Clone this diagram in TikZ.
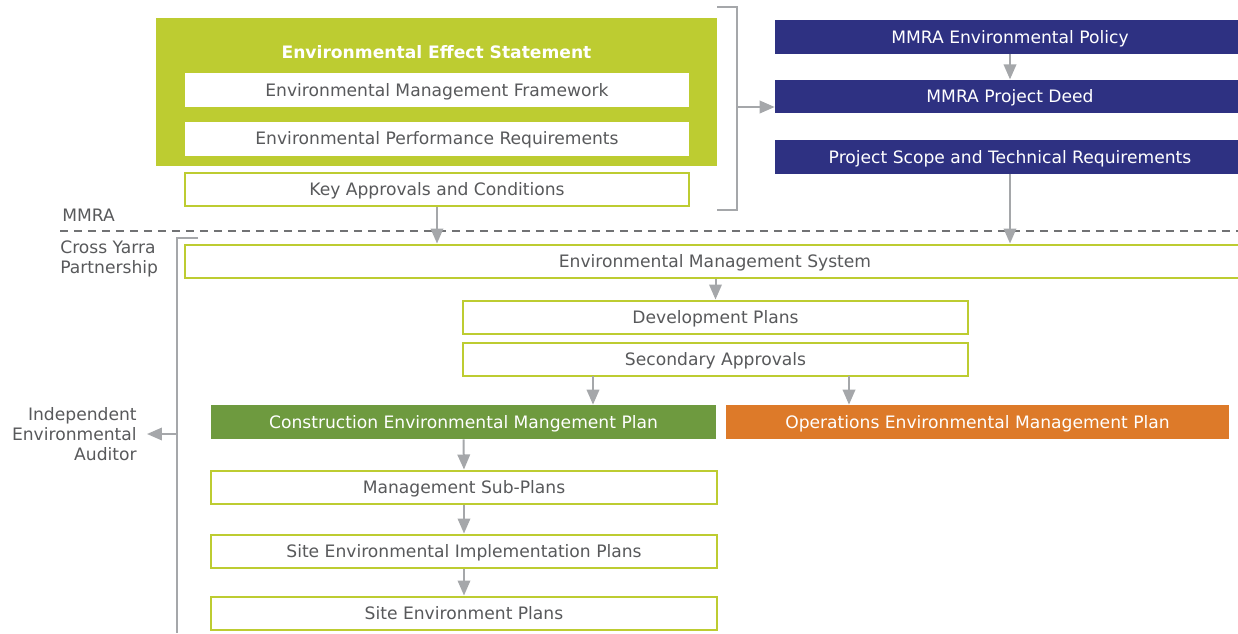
\documentclass[tikz,border=0pt]{standalone}
\usepackage{fontspec}
\setmainfont{DejaVu Sans}
\usepackage{tikz}
\usetikzlibrary{arrows.meta}
\definecolor{ees lime}{HTML}{BDCC31}
\definecolor{mmra navy}{HTML}{2E3182}
\definecolor{cemp green}{HTML}{6E9A3F}
\definecolor{oemp orange}{HTML}{DD7A29}
\definecolor{line gray}{HTML}{A5A7AA}
\definecolor{text gray}{HTML}{58595B}

\tikzset{
	plan/.style = {draw = ees lime, line width = 0.04cm, fill = white, text = text gray,
		minimum height = 0.66cm, inner sep = 0pt, text height = 0.73em, text depth = 0pt},
	inner plan/.style = {fill = white, text = text gray, minimum height = 0.68cm, inner sep = 0pt,
		text height = 0.73em, text depth = 0pt},
	navy plan/.style = {fill = mmra navy, text = white, minimum height = 0.67cm, inner sep = 0pt,
		text height = 0.73em, text depth = 0pt},
	flow/.style = {draw = line gray, line width = 0.04cm, -{Triangle[length = 0.3cm, width = 0.25cm]}},
	bracket/.style = {draw = line gray, line width = 0.03cm},
	side label/.style = {text = text gray, inner sep = 0pt}
}

\begin{document}
\begin{tikzpicture}[x = 0.02cm, y = -0.02cm, font = \fontsize{9.75}{11.6}\selectfont]
		\useasboundingbox (0, 0) rectangle (1238, 633);
		% statement and approvals
		\begin{scope}
			\node[fill = ees lime, minimum width = 11.22cm, minimum height = 2.96cm, inner sep = 0pt] (ees) at (436.5, 92) {};
			\node[text = white, font = \fontsize{9.75}{11.6}\selectfont\bfseries, text height = 0.73em, text depth = 0pt] (eestitle) at (436.5, 52) {Environmental Effect Statement};
			\node[inner plan, minimum width = 10.08cm] (emf) at (437, 90) {Environmental Management Framework};
			\node[inner plan, minimum width = 10.08cm] (epr) at (437, 138.5) {Environmental Performance Requirements};
			\node[plan, minimum width = 10.08cm] (kac) at (437, 189.5) {Key Approvals and Conditions};
		\end{scope}
		% MMRA documents
		\begin{scope}
			\node[navy plan, minimum width = 9.4cm] (policy) at (1010, 37) {MMRA Environmental Policy};
			\node[navy plan, minimum width = 9.4cm] (deed) at (1010, 96.5) {MMRA Project Deed};
			\node[navy plan, minimum width = 9.4cm] (scope) at (1010, 157) {Project Scope and Technical Requirements};
		\end{scope}
		% bracket
		\coordinate (brtop) at (717, 7);
		\coordinate (brbot) at (717, 210);
		\coordinate (brmid) at (737, 107);
		\draw[bracket] (brtop) -- ++(20, 0) -- ++(0, 203) -- (brbot);
		\draw[flow] (brmid) -- (brmid -| deed.west);
		\draw[flow] (policy.south) -- (deed.north);
		% boundary
		\coordinate (dashL) at (60, 231);
		\coordinate (dashR) at (1238, 231);
		\draw[text gray!85, line width = 0.03cm, dash pattern = on 0.17cm off 0.11cm] (dashL) -- (dashR);
		\node[side label, anchor = west] (mmra) at (62, 215) {MMRA};
		\node[side label, anchor = north west, align = left] (cyp) at (60, 240) {Cross Yarra\\Partnership};
		% Cross Yarra plans
		\node[plan, minimum width = 21.2cm] (ems) at (715, 261) {Environmental Management System};
		\node[plan, minimum width = 10.1cm] (dev) at (715.5, 317) {Development Plans};
		\node[plan, minimum width = 10.1cm] (sec) at (715.5, 359) {Secondary Approvals};
		\node[fill = cemp green, text = white, minimum width = 10.1cm, minimum height = 0.68cm, inner sep = 0pt, text height = 0.73em, text depth = 0pt] (cemp) at (463.5, 422) {Construction Environmental Mangement Plan};
		\node[fill = oemp orange, text = white, minimum width = 10.06cm, minimum height = 0.68cm, inner sep = 0pt, text height = 0.73em, text depth = 0pt] (oemp) at (977.5, 422) {Operations Environmental Management Plan};
		\node[plan, minimum width = 10.12cm] (sub) at (464, 487) {Management Sub-Plans};
		\node[plan, minimum width = 10.12cm] (seip) at (464, 551) {Site Environmental Implementation Plans};
		\node[plan, minimum width = 10.12cm] (sep) at (464, 613) {Site Environment Plans};
		% flows
		\draw[flow] (kac.south) -- (kac.south |- ems.north);
		\draw[flow] (scope.south) -- (scope.south |- ems.north);
		\draw[flow] (dev.north |- ems.south) -- (dev.north);
		\coordinate (secL) at (593, 376);
		\coordinate (secR) at (849, 376);
		\draw[flow] (secL) -- (secL |- cemp.north);
		\draw[flow] (secR) -- (secR |- oemp.north);
		\draw[flow] (cemp.south) -- (sub.north);
		\draw[flow] (sub.south) -- (seip.north);
		\draw[flow] (seip.south) -- (sep.north);
		% auditor
		\coordinate (audtop) at (198, 238);
		\coordinate (audbot) at (177, 633);
		\coordinate (audmid) at (177, 434);
		\draw[bracket] (audtop) -- (audtop -| audbot) -- (audbot);
		\node[side label, anchor = east, align = right] (auditor) at (137, 434) {Independent\\Environmental\\Auditor};
		\draw[flow] (audmid) -- ([xshift = 0.2cm]auditor.east);
	\end{tikzpicture}
\end{document}
